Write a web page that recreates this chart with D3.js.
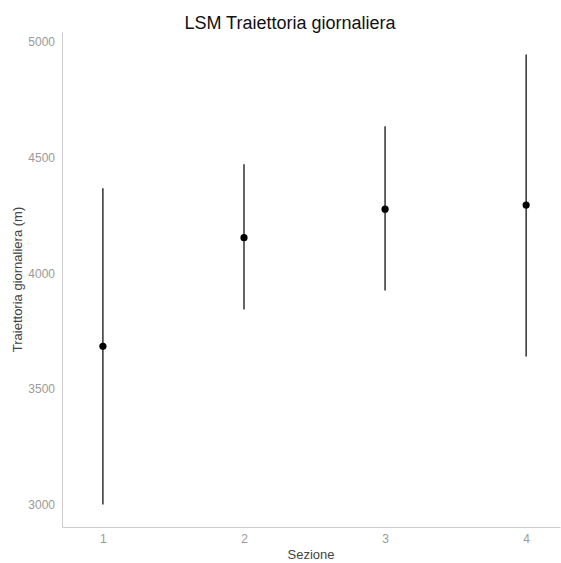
<!DOCTYPE html>
<html>
<head>
<meta charset="utf-8">
<script src="https://cdn.jsdelivr.net/npm/d3@7"></script>
<style>
  body { margin: 0; background: #fff; }
  svg { display: block; font-family: "Liberation Sans", Arial, sans-serif; }
</style>
</head>
<body>
<svg id="chart" width="561" height="563"></svg>
<script>
const categories = [1, 2, 3, 4];
const means = [3684, 4154, 4277, 4295];
const lows = [3000, 3843, 3925, 3640];
const highs = [4367, 4471, 4636, 4946];
const yTicks = [3000, 3500, 4000, 4500, 5000];

(function () {
const svg = d3.select("#chart");
const mLeft = 62, mRight = 560, mTop = 32, mBottom = 527;

const x = d3.scaleLinear().domain([0.71, 4.24]).range([mLeft, mRight]);
const y = d3.scaleLinear().domain([2903, 5043]).range([mBottom, mTop]);

// axes
const yAxis = d3.axisLeft(y).tickValues(yTicks).tickSize(0).tickPadding(7).tickFormat(d3.format("d"));
const gy = svg.append("g").attr("transform", `translate(${mLeft},0)`).call(yAxis);
gy.select(".domain").attr("stroke", "#cccccc");
gy.selectAll("text").attr("fill", "#9a9a9a").style("font-size", "12px");

const xAxis = d3.axisBottom(x).tickValues(categories).tickSize(0).tickPadding(7).tickFormat(d3.format("d"));
const gx = svg.append("g").attr("transform", `translate(0,${mBottom})`).call(xAxis);
gx.select(".domain").attr("stroke", "#cccccc");
gx.selectAll("text").attr("fill", "#9a9a9a").style("font-size", "12px");

// error bars
const data = categories.map((c, i) => ({c, m: means[i], lo: lows[i], hi: highs[i]}));
svg.append("g").selectAll("line").data(data).join("line")
  .attr("x1", d => x(d.c)).attr("x2", d => x(d.c))
  .attr("y1", d => y(d.lo)).attr("y2", d => y(d.hi))
  .attr("stroke", "#111").attr("stroke-width", 1.3);

svg.append("g").selectAll("circle").data(data).join("circle")
  .attr("cx", d => x(d.c)).attr("cy", d => y(d.m)).attr("r", 3.6)
  .attr("fill", "#000");

// titles
svg.append("text").attr("x", 290).attr("y", 29).attr("text-anchor", "middle")
  .style("font-size", "18px").attr("fill", "#111").text("LSM Traiettoria giornaliera");

svg.append("text").attr("x", (mLeft + mRight) / 2).attr("y", 559).attr("text-anchor", "middle")
  .style("font-size", "13px").attr("fill", "#444").text("Sezione");

svg.append("text").attr("transform", `translate(22,${(mTop + mBottom) / 2}) rotate(-90)`)
  .attr("text-anchor", "middle").style("font-size", "13px").attr("fill", "#444")
  .text("Traiettoria giornaliera (m)");
})();
</script>
</body>
</html>
